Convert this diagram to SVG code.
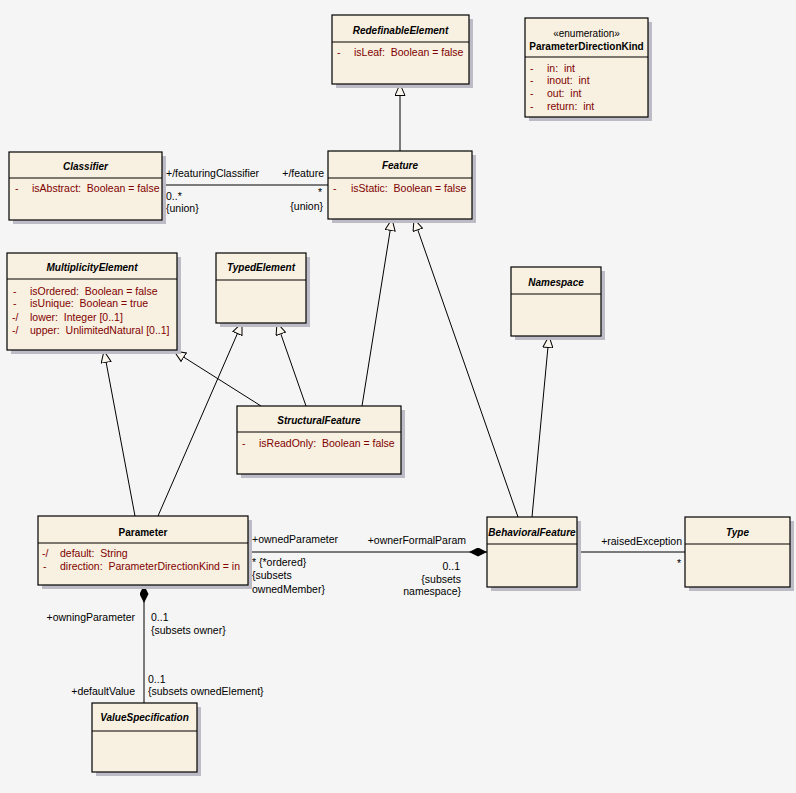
<svg xmlns="http://www.w3.org/2000/svg" width="796" height="793" viewBox="0 0 796 793" xml:space="preserve">
<style>
text { font-family: "Liberation Sans", Arial, sans-serif; font-size: 10.5px; fill: #000; white-space: pre; }
.box { fill: #f8f0e0; stroke: #000; stroke-width: 1.2; }
.sh { fill: #bdbcc6; }
.div { stroke: #000; stroke-width: 1.2; }
.t { font-weight: bold; font-size: 10px; text-anchor: middle; }
.it { font-style: italic; }
.a { fill: #800000; }
.c { font-size: 10.5px; }
.e { text-anchor: end; }
.ln { fill: none; stroke: #000; stroke-width: 1; }
</style>
<defs>
<marker id="gen" viewBox="0 0 12 11" refX="12" refY="5.5" markerWidth="12" markerHeight="11" markerUnits="userSpaceOnUse" orient="auto">
<path d="M0.5,0.5 L12,5.5 L0.5,10.5 Z" fill="#faf6ee" stroke="#000" stroke-width="1"/>
</marker>
<marker id="dia" viewBox="0 0 18 9" refX="18" refY="4.5" markerWidth="18" markerHeight="9" markerUnits="userSpaceOnUse" orient="auto">
<path d="M0,4.5 L9,0 L18,4.5 L9,9 Z" fill="#000"/>
</marker>
</defs>
<rect x="0" y="0" width="796" height="793" fill="#f5f5f5"/>

<g id="connectors">
<path class="ln" d="M400,151 L400,84" marker-end="url(#gen)"/>
<path class="ln" d="M162,185 L328,185"/>
<path class="ln" d="M135,516 L104,351" marker-end="url(#gen)"/>
<path class="ln" d="M158,516 L242,323" marker-end="url(#gen)"/>
<path class="ln" d="M261,406 L174,351" marker-end="url(#gen)"/>
<path class="ln" d="M306,406 L277,323" marker-end="url(#gen)"/>
<path class="ln" d="M362,406 L392,219" marker-end="url(#gen)"/>
<path class="ln" d="M518,517 L414,219" marker-end="url(#gen)"/>
<path class="ln" d="M532,517 L549,336" marker-end="url(#gen)"/>
<path class="ln" d="M248,552 L487,552" marker-end="url(#dia)"/>
<path class="ln" d="M577,552 L685,552"/>
<path class="ln" d="M144,703 L144,585" marker-end="url(#dia)"/>
<text class="c" x="166" y="176.5">+/featuringClassifier</text>
<text class="c e" x="324" y="176.5">+/feature</text>
<text class="c" x="166" y="199.5">0..*</text>
<text class="c" x="166" y="211.5">{union}</text>
<text class="c" x="318" y="196">*</text>
<text class="c e" x="323" y="209.5">{union}</text>
<text class="c" x="252" y="542.5">+ownedParameter</text>
<text class="c" x="252" y="565.5">* {*ordered}</text>
<text class="c" x="252" y="579">{subsets</text>
<text class="c" x="252" y="592.5">ownedMember}</text>
<text class="c e" x="466" y="543.5">+ownerFormalParam</text>
<text class="c e" x="460" y="569.5">0..1</text>
<text class="c e" x="461" y="582.5">{subsets</text>
<text class="c e" x="461" y="595">namespace}</text>
<text class="c e" x="682" y="544.5">+raisedException</text>
<text class="c" x="677" y="567">*</text>
<text class="c e" x="135" y="620.5">+owningParameter</text>
<text class="c" x="151" y="620.5">0..1</text>
<text class="c" x="151" y="633.5">{subsets owner}</text>
<text class="c" x="148" y="682.5">0..1</text>
<text class="c" x="148" y="694.5">{subsets ownedElement}</text>
<text class="c e" x="135" y="694.5">+defaultValue</text>
</g>

<g id="RedefinableElement">
<rect class="sh" x="336" y="19" width="137" height="69"/>
<rect class="box" x="332" y="15" width="137" height="69"/>
<line class="div" x1="332" y1="42" x2="469" y2="42"/>
<text class="t it" x="400.5" y="34">RedefinableElement</text>
<text class="a" x="337" y="56">-</text>
<text class="a" x="354" y="56">isLeaf:  Boolean = false</text>
</g>

<g id="ParameterDirectionKind">
<rect class="sh" x="529" y="22" width="123" height="99"/>
<rect class="box" x="525" y="18" width="123" height="99"/>
<line class="div" x1="525" y1="57" x2="648" y2="57"/>
<text x="586.5" y="37" style="text-anchor:middle;font-size:10px">«enumeration»</text>
<text class="t" x="586.5" y="50">ParameterDirectionKind</text>
<text class="a" x="530" y="71.5">-</text>
<text class="a" x="547" y="71.5">in:  int</text>
<text class="a" x="530" y="84">-</text>
<text class="a" x="547" y="84">inout:  int</text>
<text class="a" x="530" y="97">-</text>
<text class="a" x="547" y="97">out:  int</text>
<text class="a" x="530" y="110">-</text>
<text class="a" x="547" y="110">return:  int</text>
</g>

<g id="Classifier">
<rect class="sh" x="13" y="156" width="153" height="68"/>
<rect class="box" x="9" y="152" width="153" height="68"/>
<line class="div" x1="9" y1="178" x2="162" y2="178"/>
<text class="t it" x="85.5" y="169.5">Classifier</text>
<text class="a" x="15" y="191.5">-</text>
<text class="a" x="32" y="191.5">isAbstract:  Boolean = false</text>
</g>

<g id="Feature">
<rect class="sh" x="332" y="155" width="144" height="68"/>
<rect class="box" x="328" y="151" width="144" height="68"/>
<line class="div" x1="328" y1="178" x2="472" y2="178"/>
<text class="t it" x="400" y="168.5">Feature</text>
<text class="a" x="333" y="191.5">-</text>
<text class="a" x="351" y="191.5">isStatic:  Boolean = false</text>
</g>

<g id="MultiplicityElement">
<rect class="sh" x="11" y="257" width="170" height="97"/>
<rect class="box" x="7" y="253" width="170" height="97"/>
<line class="div" x1="7" y1="279" x2="177" y2="279"/>
<text class="t it" x="92" y="270.5">MultiplicityElement</text>
<text class="a" x="13" y="294.5">-</text>
<text class="a" x="30" y="294.5">isOrdered:  Boolean = false</text>
<text class="a" x="13" y="307">-</text>
<text class="a" x="30" y="307">isUnique:  Boolean = true</text>
<text class="a" x="12" y="320.5">-/</text>
<text class="a" x="30" y="320.5">lower:  Integer [0..1]</text>
<text class="a" x="12" y="333.5">-/</text>
<text class="a" x="30" y="333.5">upper:  UnlimitedNatural [0..1]</text>
</g>

<g id="TypedElement">
<rect class="sh" x="220" y="257" width="90" height="70"/>
<rect class="box" x="216" y="253" width="90" height="70"/>
<line class="div" x1="216" y1="280" x2="306" y2="280"/>
<text class="t it" x="261" y="270.5">TypedElement</text>
</g>

<g id="Namespace">
<rect class="sh" x="515" y="271" width="90" height="69"/>
<rect class="box" x="511" y="267" width="90" height="69"/>
<line class="div" x1="511" y1="294" x2="601" y2="294"/>
<text class="t it" x="556" y="285.5">Namespace</text>
</g>

<g id="StructuralFeature">
<rect class="sh" x="241" y="410" width="164" height="68"/>
<rect class="box" x="237" y="406" width="164" height="68"/>
<line class="div" x1="237" y1="432" x2="401" y2="432"/>
<text class="t it" x="319" y="423.5">StructuralFeature</text>
<text class="a" x="242" y="446.5">-</text>
<text class="a" x="259" y="446.5">isReadOnly:  Boolean = false</text>
</g>

<g id="Parameter">
<rect class="sh" x="42" y="520" width="210" height="69"/>
<rect class="box" x="38" y="516" width="210" height="69"/>
<line class="div" x1="38" y1="543" x2="248" y2="543"/>
<text class="t" x="143" y="535.5">Parameter</text>
<text class="a" x="42" y="556.5">-/</text>
<text class="a" x="60" y="556.5">default:  String</text>
<text class="a" x="43" y="570">-</text>
<text class="a" x="60" y="570">direction:  ParameterDirectionKind = in</text>
</g>

<g id="BehavioralFeature">
<rect class="sh" x="491" y="521" width="90" height="70"/>
<rect class="box" x="487" y="517" width="90" height="70"/>
<line class="div" x1="487" y1="544" x2="577" y2="544"/>
<text class="t it" x="532" y="535.5">BehavioralFeature</text>
</g>

<g id="Type">
<rect class="sh" x="689" y="521" width="105" height="70"/>
<rect class="box" x="685" y="517" width="105" height="70"/>
<line class="div" x1="685" y1="544" x2="790" y2="544"/>
<text class="t it" x="737.5" y="535.5">Type</text>
</g>

<g id="ValueSpecification">
<rect class="sh" x="96" y="707" width="105" height="69"/>
<rect class="box" x="92" y="703" width="105" height="69"/>
<line class="div" x1="92" y1="731" x2="197" y2="731"/>
<text class="t it" x="144.5" y="720.5">ValueSpecification</text>
</g>
</svg>
